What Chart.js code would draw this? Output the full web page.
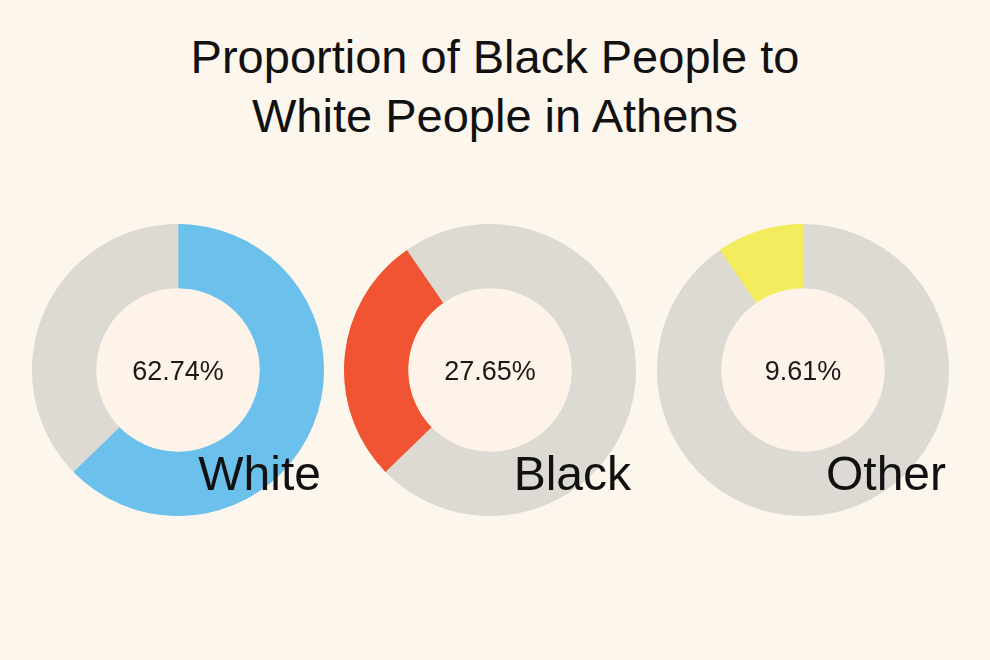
<!DOCTYPE html>
<html>
<head>
<meta charset="utf-8">
<script src="https://cdn.jsdelivr.net/npm/chart.js@4/dist/chart.umd.min.js"></script>
<style>
  html, body { margin: 0; padding: 0; background: #fdf6ec; }
  body { width: 990px; height: 660px; position: relative; overflow: hidden; font-family: "Liberation Sans", Arial, sans-serif; }
  h1 { position: absolute; left: 0; top: 27px; width: 990px; margin: 0; text-align: center;
       font-weight: 400; font-size: 47px; line-height: 59px; color: #111; }
  .donut { position: absolute; top: 224px; width: 292px; height: 292px; }
</style>
</head>
<body>
<h1>Proportion of Black People to<br>White People in Athens</h1>
<div class="donut" style="left:32px"><canvas id="whiteChart"></canvas></div>
<div class="donut" style="left:344px"><canvas id="blackChart"></canvas></div>
<div class="donut" style="left:657px"><canvas id="otherChart"></canvas></div>
<script>
var groups = ["White", "Black", "Other"];
var shares = [62.74, 27.65, 9.61];
var pctLabels = ["62.74%", "27.65%", "9.61%"];
var groupColors = ["#6cc1ec", "#f15432", "#f2ec5e"];
var restColor = "#ddd9d3";

var centerText = {
  id: 'centerText',
  beforeDatasetsDraw: function(chart) {
    var arc = chart.getDatasetMeta(0).data[0];
    var c = chart.ctx;
    c.save();
    c.fillStyle = "#fef3e8";
    c.beginPath();
    c.arc(arc.x, arc.y, arc.innerRadius, 0, Math.PI * 2);
    c.fill();
    c.restore();
  },
  afterDraw: function(chart) {
    var arc = chart.getDatasetMeta(0).data[0];
    var o = chart.options.plugins.centerText;
    var c = chart.ctx;
    c.save();
    c.fillStyle = "#1a1a1a";
    c.textAlign = "center";
    c.textBaseline = "middle";
    c.font = '400 27px "Liberation Sans", Arial, sans-serif';
    c.fillText(o.pct, arc.x, arc.y + 3);
    c.fillStyle = "#111";
    c.textAlign = "right";
    c.textBaseline = "alphabetic";
    c.font = '300 48px "Liberation Sans", Arial, sans-serif';
    c.fillText(o.name, o.right, 266);
    c.restore();
  }
};

function makeDonut(id, idx, right) {
  var colors = groups.map(function(g, i) { return i == idx ? groupColors[i] : restColor; });
  new Chart(document.getElementById(id), {
    type: 'doughnut',
    data: {
      labels: groups,
      datasets: [{ data: shares, backgroundColor: colors, borderColor: colors, borderWidth: 1,
                   borderAlign: 'inner', hoverOffset: 0 }]
    },
    options: {
      responsive: true,
      maintainAspectRatio: false,
      animation: false,
      cutout: '56%',
      layout: { padding: 0 },
      plugins: {
        legend: { display: false },
        tooltip: { enabled: false },
        centerText: { pct: pctLabels[idx], name: groups[idx], right: right }
      }
    },
    plugins: [centerText]
  });
}

makeDonut("whiteChart", 0, 289);
makeDonut("blackChart", 1, 287);
makeDonut("otherChart", 2, 289);
</script>
</body>
</html>
